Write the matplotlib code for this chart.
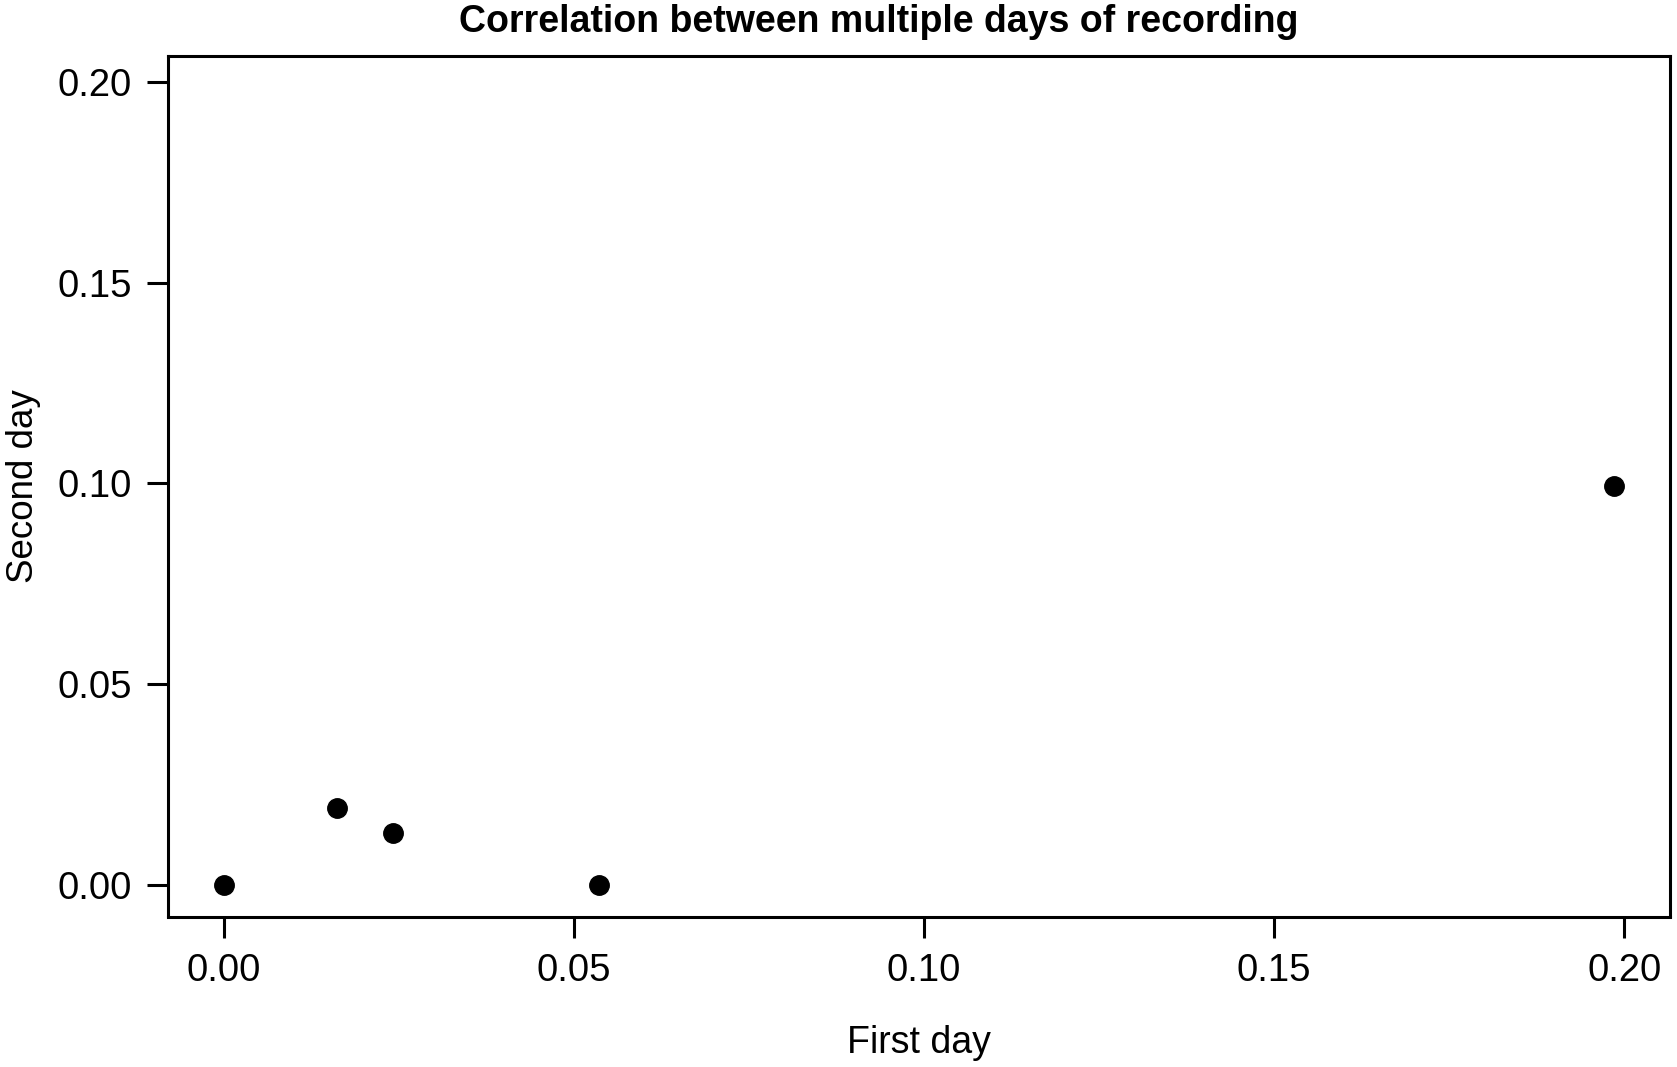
import numpy as np
import matplotlib.pyplot as plt

plt.rcParams['font.family'] = ['Liberation Sans', 'DejaVu Sans']

# correlation values
first_day = [0.0, 0.0162, 0.0242, 0.0536, 0.1986]
second_day = [0.0, 0.0190, 0.0129, 0.0, 0.0992]
ticks = [0.00, 0.05, 0.10, 0.15, 0.20]
tick_labels = ['0.00', '0.05', '0.10', '0.15', '0.20']

fig = plt.figure(figsize=(16.77, 10.67), dpi=100)
ax = fig.add_axes([168 / 1677, 1 - 916.5 / 1067, (1670 - 168) / 1677, (916.5 - 55.6) / 1067])

ax.plot(first_day, second_day, 'o', color='black', markersize=14, linestyle='none')

lo, hi = 0.0, 0.1986
pad = (hi - lo) * 0.04
ax.set_xlim(lo - pad, hi + pad)
ax.set_ylim(lo - pad, hi + pad)

ax.set_xticks(ticks)
ax.set_xticklabels(tick_labels)
ax.set_yticks(ticks)
ax.set_yticklabels(tick_labels)
ax.tick_params(axis='both', direction='out', length=15, width=2.2, labelsize=27.5, pad=11)

for s in ax.spines.values():
    s.set_linewidth(2.2)

# title in the source sits a little left of the plot centre
ax.set_title('Correlation between multiple days of recording', fontsize=27, fontweight='bold',
             x=0.473, pad=17)
ax.set_xlabel('First day', fontsize=27, labelpad=26)
ax.set_ylabel('Second day', fontsize=26.5, labelpad=12)

fig.savefig('out.png', dpi=100)
